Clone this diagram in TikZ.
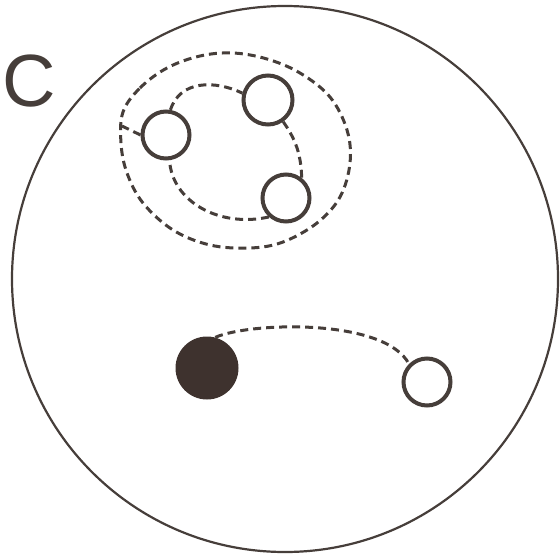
\documentclass[tikz,border=0pt]{standalone}
\usepackage{fontspec}
\setmainfont{Liberation Sans}
\usetikzlibrary{calc,positioning}

\definecolor{ink}{RGB}{70,62,58}
\definecolor{blob}{RGB}{62,50,46}

\begin{document}
\begin{tikzpicture}[x=1pt,y=-1pt]

\tikzset{cell/.style = {shape=circle,draw=ink,line width=4pt,inner sep=0pt,minimum size=47pt}}
\tikzset{fullcell/.style = {shape=circle,fill=blob,draw=none,inner sep=0pt,minimum size=63pt}}
\tikzset{link/.style = {draw=ink,line width=3pt,dash pattern=on 8pt off 5pt}}

\useasboundingbox (0,0) rectangle (560,560);

% outer circle
\node[circle,draw=ink,line width=2.2pt,inner sep=0pt,minimum size=546pt] (rim) at (285,279) {};
\node[text=ink] (lbl) at (29,81) {\fontsize{74}{74}\selectfont C};

% vertices
\node[cell] (a) at (166,135) {};
\node[cell,minimum size=49pt] (b) at (268,100) {};
\node[cell] (c) at (286,198) {};
\node[fullcell] (f) at (207,368) {};
\node[cell] (o) at (427,382) {};
\coordinate (loopw) at (122,126);

%edges
\draw[link] plot[smooth cycle,tension=0.6] coordinates {
  (123,112) (140,88) (167,68) (200,56) (233,53) (267,59) (300,73)
  (330,97) (347,130) (350,163) (340,197) (317,223) (283,242)
  (250,248) (210,245) (173,230) (143,203) (127,173) (121,143)};
\draw[link] (a.west) -- (loopw);
\draw[link] (a.80) .. controls (180,80) and (215,80) .. (b.165);
\draw[link] (b.-55) to[out=-55,in=92] (c.52);
\draw[link] (c.228) .. controls (220,228) and (172,202) .. (a.-82);
\draw[link] (f.75) .. controls (250,322) and (385,318) .. (o.135);

\end{tikzpicture}
\end{document}
